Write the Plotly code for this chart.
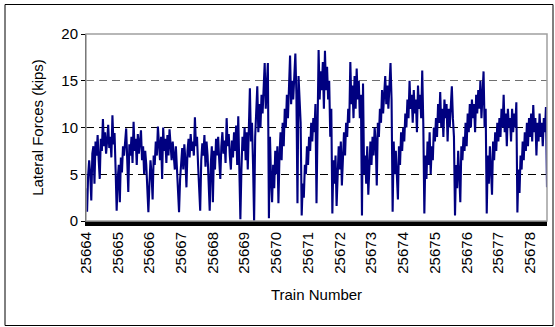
import plotly.graph_objects as go

# Lateral force per axle sample (kips), in order (30 samples per train)
lateral_forces = [
    # 25664
    3.5, 1.0, 4.8, 6.5, 5.0, 2.2, 7.2, 8.0, 4.0, 8.5, 7.0, 9.2, 6.5, 4.5, 8.8, 7.5, 10.9, 8.0, 9.5, 7.2,
    8.6, 10.3, 7.8, 9.0, 6.8, 11.3, 8.2, 9.4, 5.5, 1.1,
    # 25665
    4.5, 6.0, 2.0, 6.8, 5.2, 8.0, 7.0, 8.5, 9.9, 6.5, 3.1, 8.2, 7.0, 9.0, 6.2, 10.6, 7.5, 8.8, 6.0, 9.3,
    7.2, 8.5, 9.7, 6.5, 8.0, 5.0, 7.5, 6.0, 3.5, 0.95,
    # 25666
    4.0, 6.5, 5.0, 2.3, 7.0, 6.0, 8.5, 7.0, 10.1, 8.0, 6.5, 9.0, 4.5, 10.0, 7.5, 8.8, 6.2, 9.2, 7.0, 9.8,
    8.0, 6.5, 8.5, 7.2, 5.5, 8.0, 6.0, 3.0, 0.95, 4.5,
    # 25667
    6.0, 7.8, 5.5, 8.2, 6.5, 3.6, 7.5, 8.8, 6.8, 9.3, 7.5, 8.5, 7.0, 11.1, 8.0, 9.0, 6.0, 4.0, 1.1, 6.5,
    8.3, 7.0, 9.2, 5.8, 8.5, 7.0, 4.5, 1.1, 6.0, 8.0,
    # 25668
    2.0, 7.5, 5.5, 8.8, 7.0, 9.0, 6.5, 4.5, 8.0, 9.5, 7.2, 8.6, 6.2, 11.0, 8.0, 9.3, 7.0, 5.5, 8.6, 6.8,
    9.5, 7.5, 10.2, 6.0, 11.2, 3.0, 0.2, 5.5, 9.0, 7.5,
    # 25669
    10.0, 6.5, 9.5, 5.5, 11.0, 14.2, 8.5, 10.5, 6.0, 0.0, 9.0, 11.5, 14.4, 9.5, 12.5, 10.0, 13.5, 11.5, 14.5, 16.9,
    12.0, 14.0, 16.9, 0.3, 9.0, 4.5, 2.0, 6.0, 3.5, 7.5,
    # 25670
    5.0, 8.0, 1.9, 7.0, 9.5, 6.5, 10.5, 8.0, 12.0, 10.0, 13.5, 11.0, 15.0, 17.7, 12.5, 15.0, 13.0, 16.0, 17.9, 13.5,
    1.9, 15.5, 12.0, 10.5, 0.6, 4.0, 2.5, 6.0, 5.0, 8.0,
    # 25671
    6.0, 9.0, 7.5, 10.5, 8.5, 11.0, 9.5, 12.5, 1.9, 14.0, 18.3, 13.0, 16.0, 14.0, 17.0, 12.0, 18.2, 14.0, 16.5, 13.0,
    15.0, 9.0, 12.0, 0.8, 6.5, 4.0, 7.0, 1.6, 6.0, 8.0,
    # 25672
    5.5, 8.5, 3.8, 7.5, 9.5, 7.0, 10.5, 9.0, 12.0, 10.5, 17.0, 12.5, 14.5, 11.0, 15.5, 12.0, 16.3, 13.0, 15.0, 11.0,
    13.5, 0.6, 14.7, 5.0, 7.0, 4.0, 8.0, 2.8, 6.5, 8.5,
    # 25673
    6.0, 9.0, 7.0, 10.0, 8.5, 3.8, 10.5, 9.0, 12.0, 10.5, 14.0, 11.5, 13.5, 15.5, 12.5, 14.5, 12.0, 15.0, 16.9, 13.0,
    1.0, 8.5, 5.0, 7.5, 4.0, 2.3, 8.0, 6.0, 9.5, 7.5,
    # 25674
    10.0, 8.5, 11.5, 10.0, 13.0, 11.0, 15.0, 12.0, 13.5, 10.5, 14.0, 11.5, 13.0, 9.5, 14.5, 12.0, 13.5, 11.0, 16.1, 10.5,
    0.8, 7.0, 4.5, 8.5, 6.0, 9.5, 5.0, 8.0, 6.5, 10.0,
    # 25675
    8.5, 11.0, 9.0, 12.5, 10.5, 13.8, 10.0, 12.0, 9.0, 13.0, 11.0, 12.5, 8.5, 12.0, 10.0, 13.0, 14.4, 11.0, 9.0, 0.6,
    6.0, 3.5, 7.5, 5.0, 2.0, 8.0, 6.5, 9.0, 7.5, 10.5,
    # 25676
    8.0, 11.5, 9.5, 12.5, 10.0, 13.0, 11.0, 12.5, 9.5, 13.5, 11.5, 14.0, 12.0, 15.0, 11.0, 13.5, 16.0, 10.0, 12.0, 0.8,
    7.0, 4.0, 8.0, 5.5, 2.8, 8.5, 6.5, 9.5, 7.5, 10.5,
    # 25677
    8.5, 11.0, 9.0, 12.0, 10.0, 13.5, 9.5, 11.5, 8.0, 12.0, 10.0, 11.0, 8.5, 12.0, 9.5, 11.5, 10.0, 12.7, 0.9, 5.5,
    3.0, 7.0, 5.5, 8.5, 6.5, 9.5, 7.5, 10.5, 8.0, 11.0,
    # 25678
    9.0, 11.5, 8.5, 12.4, 9.5, 11.0, 7.0, 10.5, 8.5, 11.5, 9.0, 10.5, 8.0, 11.0, 9.5, 12.2, 3.6,
]
samples_per_train = 30
train_numbers = [str(n) for n in range(25664, 25679)]
y_ticks = [0, 5, 10, 15, 20]

sample_index = list(range(len(lateral_forces)))
train_tick_pos = [k * samples_per_train for k in range(len(train_numbers))]

FONT = "Arial, Liberation Sans, sans-serif"

fig = go.Figure()
fig.add_trace(go.Scatter(
    x=sample_index, y=lateral_forces, mode="lines",
    line=dict(color="#000080", width=2.1), showlegend=False, hoverinfo="skip",
))
# invisible traces to attach the extra gridline axes
fig.add_trace(go.Scatter(x=[0], y=[0], yaxis="y2", mode="markers",
                         marker=dict(opacity=0), showlegend=False, hoverinfo="skip"))
fig.add_trace(go.Scatter(x=[0], y=[0], yaxis="y3", mode="markers",
                         marker=dict(opacity=0), showlegend=False, hoverinfo="skip"))

L, R, T, B = 86, 8, 34, 106
W, H = 555, 327
pw, ph = W - L - R, H - T - B

fig.update_layout(
    width=W, height=H,
    margin=dict(l=L, r=R, t=T, b=B, pad=0),
    paper_bgcolor="white", plot_bgcolor="white",
    font=dict(family=FONT, size=15, color="black"),
    xaxis=dict(
        range=[0, len(lateral_forces) - 1],
        tickmode="array", tickvals=train_tick_pos, ticktext=train_numbers,
        tickangle=-90, ticks="", showgrid=False, zeroline=False,
        showline=True, linecolor="black", linewidth=5,
        title=dict(text="Train Number", font=dict(size=15), standoff=18),
        tickfont=dict(size=15),
    ),
    yaxis=dict(
        range=[0, 20], tickmode="array", tickvals=y_ticks,
        ticks="outside", ticklen=4, tickcolor="black",
        showgrid=False, zeroline=False,
        showline=True, linecolor="black", linewidth=1,
        title=dict(text="Lateral Forces (kips)", font=dict(size=15), standoff=14),
        tickfont=dict(size=15),
    ),
    yaxis2=dict(
        range=[0, 20], overlaying="y", tickmode="array", tickvals=[5, 10],
        showticklabels=False, ticks="", showgrid=True, gridcolor="black",
        griddash="8px,5px", gridwidth=1, zeroline=False, showline=False,
    ),
    yaxis3=dict(
        range=[0, 20], overlaying="y", tickmode="array", tickvals=[15],
        showticklabels=False, ticks="", showgrid=True, gridcolor="#707070",
        griddash="8px,5px", gridwidth=1, zeroline=False, showline=False,
    ),
)

# gray plot frame (top and right) and the outer chart border
fig.add_shape(type="rect", xref="paper", yref="paper", x0=0, x1=1, y0=0, y1=1,
              line=dict(color="#a0a0a0", width=1.5), layer="above")
fig.add_shape(type="rect", xref="paper", yref="paper",
              x0=(5 - L) / pw, x1=(553 - L) / pw,
              y0=(T + ph - 325.5) / ph, y1=(T + ph - 4.5) / ph,
              line=dict(color="black", width=1), layer="above")

fig.write_html("out.html")
